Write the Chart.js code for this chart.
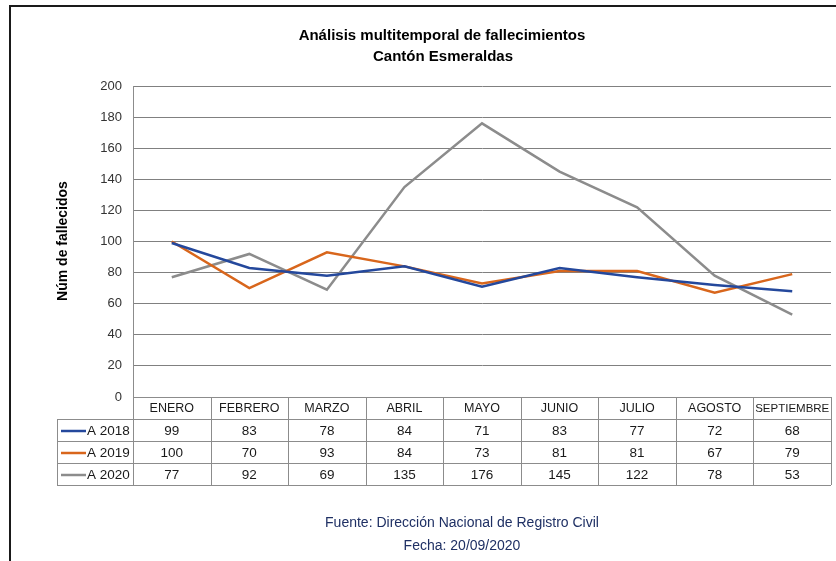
<!DOCTYPE html>
<html lang="es">
<head>
<meta charset="utf-8" />
<title>Fallecimientos Esmeraldas</title>
<style>
  html, body { margin: 0; padding: 0; background: #fff; }
  canvas { display: block; }
</style>
</head>
<body>
<canvas id="grafico" width="836" height="561"></canvas>
<script src="https://cdn.jsdelivr.net/npm/chart.js@4.4.1/dist/chart.umd.min.js"></script>
<script>
var meses = ["ENERO", "FEBRERO", "MARZO", "ABRIL", "MAYO", "JUNIO", "JULIO", "AGOSTO", "SEPTIEMBRE"];
var series = ["A 2018", "A 2019", "A 2020"];
var a2018 = [99, 83, 78, 84, 71, 83, 77, 72, 68];
var a2019 = [100, 70, 93, 84, 73, 81, 81, 67, 79];
var a2020 = [77, 92, 69, 135, 176, 145, 122, 78, 53];
var colores = ["#24489c", "#d8661c", "#8c8c8c"];

var fuente = "'Liberation Sans', Arial, sans-serif";

// tabla de datos, marco, titulos y pie
var tablaPlugin = {
    id: "tabla",
    beforeDraw: function (chart) {
        var ctx = chart.ctx;
        ctx.save();
        ctx.fillStyle = "#ffffff";
        ctx.fillRect(0, 0, chart.width, chart.height);
        ctx.restore();
    },
    afterDraw: function (chart) {
        var ctx = chart.ctx;
        var x = chart.scales.x;
        var area = chart.chartArea;
        var paso = x.getPixelForValue(1) - x.getPixelForValue(0);
        var y0 = area.bottom;
        var alto = 22;
        var izq = 57;
        ctx.save();

        // marco
        ctx.strokeStyle = "#1a1a1a";
        ctx.lineWidth = 2;
        ctx.beginPath();
        ctx.moveTo(10, chart.height);
        ctx.lineTo(10, 6);
        ctx.lineTo(chart.width, 6);
        ctx.stroke();

        // titulo
        ctx.fillStyle = "#000";
        ctx.textAlign = "center";
        ctx.textBaseline = "middle";
        ctx.font = "bold 15px " + fuente;
        ctx.fillText("Análisis multitemporal de fallecimientos", 442, 36);
        ctx.fillText("Cantón Esmeraldas", 443, 57);

        // titulo eje y
        ctx.save();
        ctx.translate(63, 241);
        ctx.rotate(-Math.PI / 2);
        ctx.font = "bold 14px " + fuente;
        ctx.fillText("Núm de fallecidos", 0, 0);
        ctx.restore();

        // rejilla de la tabla
        ctx.strokeStyle = "#8c8c8c";
        ctx.lineWidth = 1;
        ctx.beginPath();
        var xi = area.left, xf = area.right;
        for (var r = 0; r <= 4; r++) {
            var yy = Math.round(y0 + r * alto) + 0.5;
            ctx.moveTo(r === 0 ? xi : izq, yy);
            ctx.lineTo(xf, yy);
        }
        ctx.moveTo(izq + 0.5, y0 + alto);
        ctx.lineTo(izq + 0.5, y0 + 4 * alto);
        for (var c = 0; c <= meses.length; c++) {
            var xx = Math.round(x.getPixelForValue(c) - paso / 2) + 0.5;
            ctx.moveTo(xx, y0);
            ctx.lineTo(xx, y0 + 4 * alto);
        }
        ctx.stroke();

        // encabezados
        ctx.fillStyle = "#1a1a1a";
        meses.forEach(function (m, i) {
            var tam = 12.5;
            ctx.font = tam + "px " + fuente;
            while (ctx.measureText(m).width > paso - 3 && tam > 8) {
                tam -= 0.25;
                ctx.font = tam + "px " + fuente;
            }
            ctx.fillText(m, x.getPixelForValue(i), y0 + alto / 2 + 1);
        });

        // filas
        var datos = [a2018, a2019, a2020];
        ctx.font = "13.5px " + fuente;
        datos.forEach(function (fila, r) {
            var yc = y0 + alto * (r + 1) + alto / 2 + 1;
            ctx.strokeStyle = colores[r];
            ctx.lineWidth = 2.5;
            ctx.beginPath();
            ctx.moveTo(61, yc);
            ctx.lineTo(86, yc);
            ctx.stroke();
            ctx.textAlign = "left";
            ctx.fillText(series[r], 87, yc);
            ctx.textAlign = "center";
            fila.forEach(function (v, i) {
                ctx.fillText(String(v), x.getPixelForValue(i), yc);
            });
        });

        // pie
        ctx.fillStyle = "#1f3064";
        ctx.font = "14px " + fuente;
        ctx.fillText("Fuente: Dirección Nacional de Registro Civil", 462, 523);
        ctx.fillText("Fecha: 20/09/2020", 462, 546);
        ctx.restore();
    }
};

new Chart(document.getElementById("grafico").getContext("2d"), {
    type: "line",
    data: {
        labels: meses,
        datasets: [
            { label: series[0], data: a2018, borderColor: colores[0], backgroundColor: colores[0] },
            { label: series[1], data: a2019, borderColor: colores[1], backgroundColor: colores[1] },
            { label: series[2], data: a2020, borderColor: colores[2], backgroundColor: colores[2] }
        ]
    },
    options: {
        responsive: false,
        animation: false,
        devicePixelRatio: 1,
        elements: {
            line: { borderWidth: 2.5, tension: 0 },
            point: { radius: 0 }
        },
        layout: { padding: { top: 86, bottom: 164, left: 10, right: 5 } },
        plugins: {
            legend: { display: false },
            title: { display: false },
            tooltip: { enabled: false }
        },
        scales: {
            x: {
                offset: true,
                grid: { display: false },
                ticks: { display: false },
                border: { display: false },
                afterFit: function (s) { s.height = 0; }
            },
            y: {
                min: 0,
                max: 200,
                ticks: { stepSize: 20, color: "#333333", padding: 11, font: { family: fuente, size: 13 } },
                grid: { color: "#808080", drawTicks: false },
                border: { color: "#8c8c8c" },
                afterFit: function (s) { s.width = 123; }
            }
        }
    },
    plugins: [tablaPlugin]
});
</script>
</body>
</html>
